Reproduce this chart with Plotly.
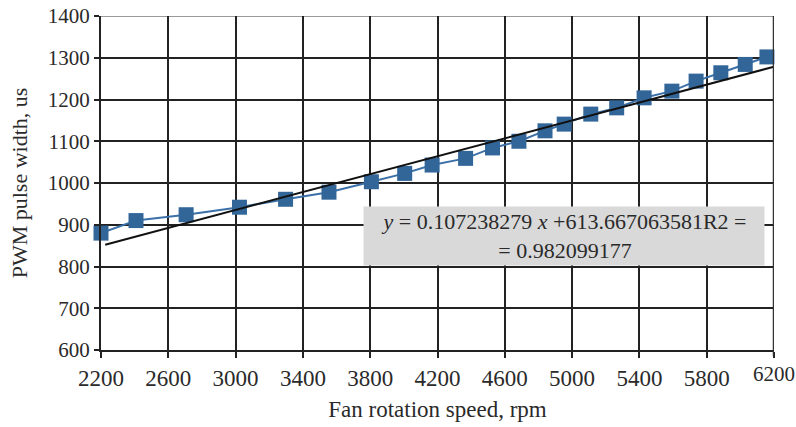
import numpy as np
import plotly.graph_objects as go

# Data
rpm = [2200, 2408, 2706, 3023, 3297, 3555, 3807, 4005, 4168, 4367, 4527,
       4684, 4839, 4953, 5111, 5265, 5428, 5593, 5737, 5884, 6029, 6158]
pwm = [880, 910, 924, 942, 961, 978, 1003, 1023, 1043, 1059, 1084,
       1100, 1125, 1141, 1165, 1180, 1204, 1220, 1244, 1264, 1284, 1302]

slope = 0.107238279
intercept = 613.667063581
r2 = 0.982099177

x_ticks = [2200, 2600, 3000, 3400, 3800, 4200, 4600, 5000, 5400, 5800, 6200]
y_ticks = [600, 700, 800, 900, 1000, 1100, 1200, 1300, 1400]

FONT = "Liberation Serif"
TXT = "#2a2a2a"
GRID = "#222222"

trend_x = np.array([2225, 6200])
trend_y = slope * trend_x + intercept

fig = go.Figure()
fig.add_trace(go.Scatter(x=rpm, y=pwm, mode="lines+markers",
                         line=dict(color="#3b70a8", width=2),
                         marker=dict(symbol="square", size=15, color="#326699"),
                         showlegend=False, cliponaxis=False))
fig.add_trace(go.Scatter(x=trend_x, y=trend_y, mode="lines",
                         line=dict(color="#111111", width=2),
                         showlegend=False))

# top border (grey) and right border (dark)
fig.add_shape(type="line", xref="x", yref="y", x0=2200, x1=6200, y0=1400, y1=1400,
              line=dict(color="#9a9a9a", width=2), layer="below")
fig.add_shape(type="line", xref="x", yref="paper", x0=6200, x1=6200, y0=-0.018, y1=1.0,
              line=dict(color="#333333", width=2.5))

fig.add_annotation(x=4952, y=873, xref="x", yref="y",
                   text=("<i>y</i> = %.9f <i>x</i> +%.9fR2 =<br>= %.9f" % (slope, intercept, r2)),
                   showarrow=False, align="center", xanchor="center", yanchor="middle",
                   bgcolor="#d9d9d9", width=398, height=56,
                   font=dict(family=FONT, size=22, color=TXT))

# last tick label sits slightly raised in the reference
tick_text = [str(v) for v in x_ticks[:-1]] + [""]
fig.add_annotation(x=x_ticks[-1], y=0, xref="x", yref="paper", text=str(x_ticks[-1]),
                   showarrow=False, xanchor="center", yanchor="top", yshift=-10,
                   font=dict(family=FONT, size=21, color=TXT))

fig.update_xaxes(range=[2200, 6200], tickvals=x_ticks, ticktext=tick_text,
                 showgrid=True, gridcolor=GRID, gridwidth=2,
                 showline=True, linecolor=GRID, linewidth=2,
                 ticks="outside", ticklen=6, tickwidth=2, tickcolor=GRID,
                 tickfont=dict(family=FONT, size=23, color=TXT),
                 title=dict(text="Fan rotation speed, rpm", standoff=11,
                            font=dict(family=FONT, size=23, color=TXT)),
                 zeroline=False, automargin=False)
fig.update_yaxes(range=[600, 1400], tickvals=y_ticks,
                 showgrid=True, gridcolor=GRID, gridwidth=2,
                 showline=True, linecolor=GRID, linewidth=2,
                 ticks="outside", ticklen=5, tickwidth=2, tickcolor=GRID,
                 tickfont=dict(family=FONT, size=21, color=TXT),
                 title=dict(text="PWM pulse width, us", standoff=14,
                            font=dict(family=FONT, size=22, color=TXT)),
                 zeroline=False, automargin=False)

fig.update_layout(width=796, height=427,
                  margin=dict(l=101, r=22, t=16, b=77),
                  paper_bgcolor="white", plot_bgcolor="white",
                  font=dict(family=FONT, color=TXT))

fig.write_html("out.html", config={"displayModeBar": False},
               post_script="document.body.style.margin='0px';")
